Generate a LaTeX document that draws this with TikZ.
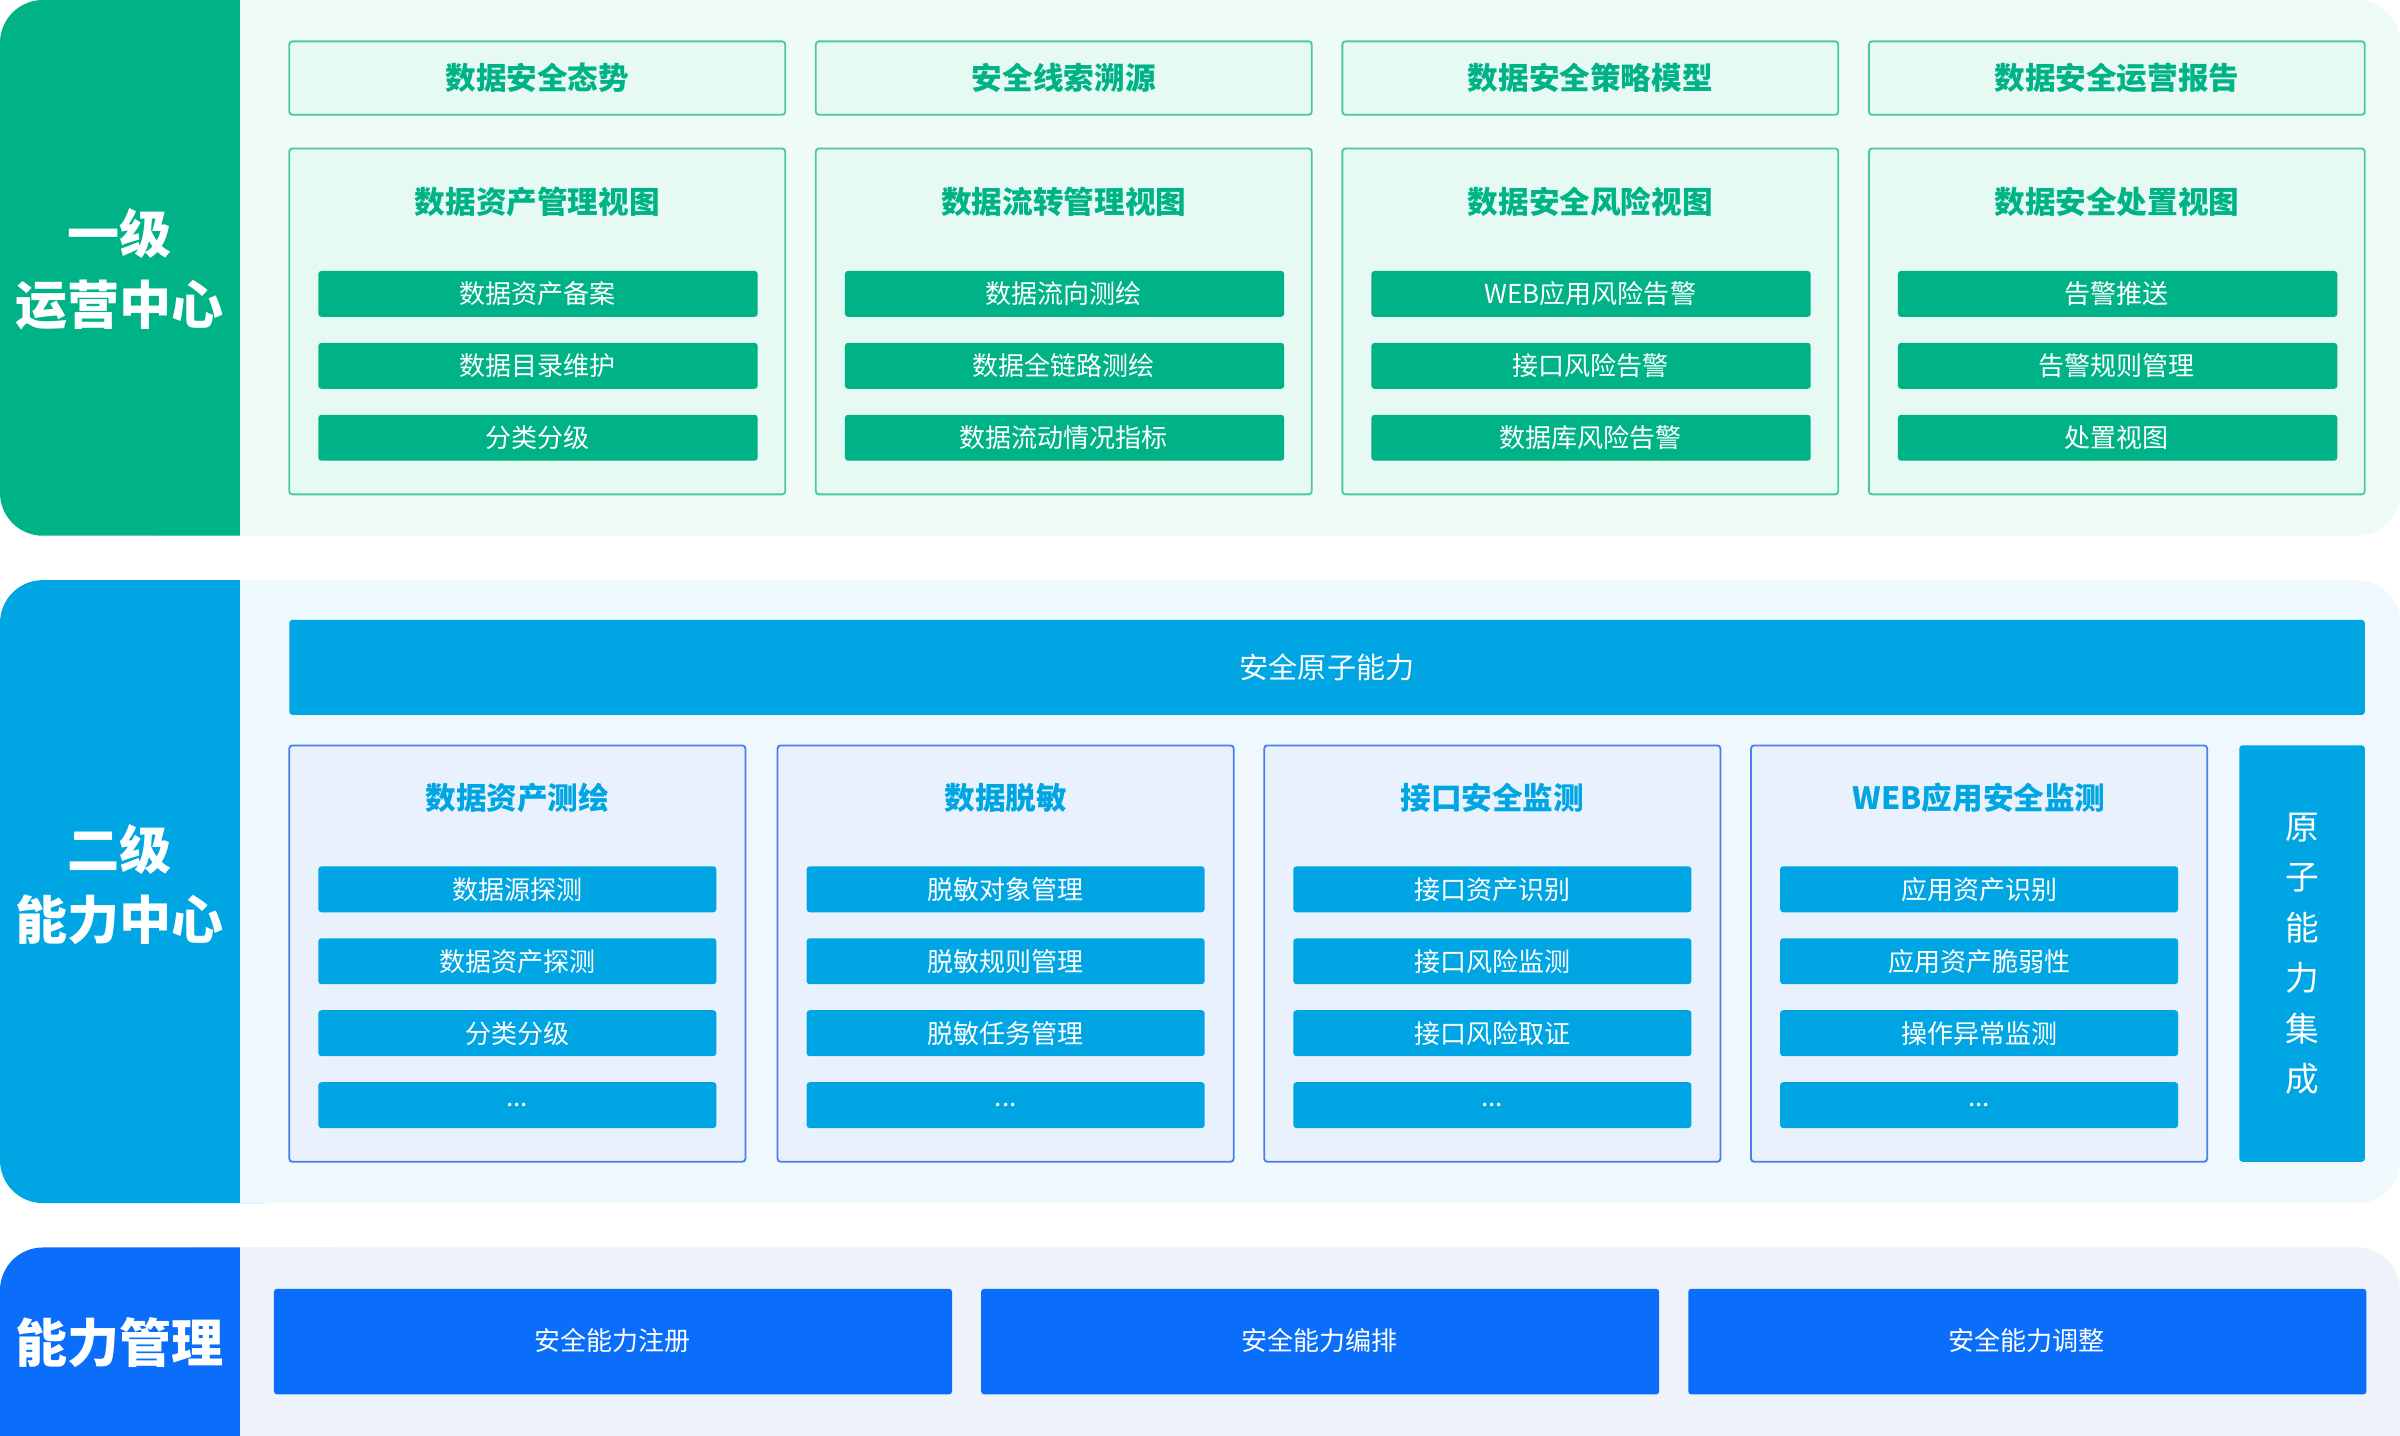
\documentclass[tikz,border=0pt]{standalone}
\usepackage{fontspec}
\setmainfont{Noto Sans CJK SC}
\begin{document}
\begin{tikzpicture}[x=1pt,y=-1pt,
  gbox/.style={draw=gLine,fill=gLight,line width=1.2pt,rounded corners=2pt},
  gbar/.style={fill=gMain,rounded corners=2pt},
  bbox/.style={draw=bLine,fill=bInner,line width=1.2pt,rounded corners=2pt},
  bbar/.style={fill=bMain,rounded corners=2pt},
  wtxt/.style={text=white,font=\fontsize{17}{20}\selectfont},
  gtitle/.style={text=gMain,font=\fontsize{20}{24}\selectfont\bfseries},
  btitle/.style={text=bMain,font=\fontsize{20}{24}\selectfont\bfseries},
  side/.style={text=white,font=\fontsize{34}{46}\selectfont\bfseries,align=center}]
\definecolor{gMain}{HTML}{00B386}
\definecolor{gLight}{HTML}{E6FAF3}
\definecolor{gBg}{HTML}{EEFBF6}
\definecolor{gLine}{HTML}{4CC7A4}
\definecolor{bMain}{HTML}{00A5E3}
\definecolor{bBg}{HTML}{EEF8FD}
\definecolor{bInner}{HTML}{E9F2FC}
\definecolor{bLine}{HTML}{4A7DF0}
\definecolor{cMain}{HTML}{0A6EFA}
\definecolor{cBg}{HTML}{EDF2FB}
\useasboundingbox (0,0) rectangle (1568,938);
% row 1
\fill[gBg,rounded corners=28pt] (100,0) rectangle (1568,350);
\fill[gBg] (100,0) rectangle (1500,350);
\fill[gMain,rounded corners=28pt] (0,0) rectangle (200,350);
\fill[gBg] (157,0) rectangle (220,350);
\node[side] (l1) at (78,176) {一级\\运营中心};
\foreach \x/\t/\h/\a/\b/\c [count=\i] in {189/数据安全态势/数据资产管理视图/数据资产备案/数据目录维护/分类分级,
  533/安全线索溯源/数据流转管理视图/数据流向测绘/数据全链路测绘/数据流动情况指标,
  877/数据安全策略模型/数据安全风险视图/WEB应用风险告警/接口风险告警/数据库风险告警,
  1221/数据安全运营报告/数据安全处置视图/告警推送/告警规则管理/处置视图}{
  \draw[gbox] (\x,27) rectangle ++(324,48);
  \node[gtitle] (t\i) at (\x+162,51) {\t};
  \draw[gbox] (\x,97) rectangle ++(324,226);
  \node[gtitle] (h\i) at (\x+162,132) {\h};
  \fill[gbar] (\x+19,177) rectangle ++(287,30);
  \node[wtxt] (a\i) at (\x+162,192) {\a};
  \fill[gbar] (\x+19,224) rectangle ++(287,30);
  \node[wtxt] (b\i) at (\x+162,239) {\b};
  \fill[gbar] (\x+19,271) rectangle ++(287,30);
  \node[wtxt] (c\i) at (\x+162,286) {\c};
}
% row 2
\fill[bBg,rounded corners=28pt] (100,379) rectangle (1568,786);
\fill[bBg] (100,379) rectangle (1500,786);
\fill[bMain,rounded corners=28pt] (0,379) rectangle (200,786);
\fill[bBg] (157,379) rectangle (220,786);
\node[side] (l2) at (78,578) {二级\\能力中心};
\fill[bbar] (189,405) rectangle (1545,467);
\node[wtxt,font=\fontsize{19}{22}\selectfont] (atom) at (867,436) {安全原子能力};
\foreach \x/\h/\a/\b/\c [count=\i] in {189/数据资产测绘/数据源探测/数据资产探测/分类分级,
  508/数据脱敏/脱敏对象管理/脱敏规则管理/脱敏任务管理,
  826/接口安全监测/接口资产识别/接口风险监测/接口风险取证,
  1144/WEB应用安全监测/应用资产识别/应用资产脆弱性/操作异常监测}{
  \draw[bbox] (\x,487) rectangle ++(298,272);
  \node[btitle] (bh\i) at (\x+149,521) {\h};
  \fill[bbar] (\x+19,566) rectangle ++(260,30);
  \node[wtxt] (ba\i) at (\x+149,581) {\a};
  \fill[bbar] (\x+19,613) rectangle ++(260,30);
  \node[wtxt] (bb\i) at (\x+149,628) {\b};
  \fill[bbar] (\x+19,660) rectangle ++(260,30);
  \node[wtxt] (bc\i) at (\x+149,675) {\c};
  \fill[bbar] (\x+19,707) rectangle ++(260,30);
  \node[wtxt] (bd\i) at (\x+149,722) {...};
}
\fill[bbar] (1463,487) rectangle (1545,759);
\node[text=white,font=\fontsize{22}{33}\selectfont,align=center] (vert) at (1504,623) {原\\子\\能\\力\\集\\成};
% row 3
\fill[cBg,rounded corners=28pt] (100,815) rectangle (1568,990);
\fill[cMain,rounded corners=28pt] (0,815) rectangle (200,990);
\fill[cBg] (157,815) rectangle (220,938);
\node[side] (l3) at (78,877) {能力管理};
\foreach \x/\t [count=\i] in {179/安全能力注册,641/安全能力编排,1103/安全能力调整}{
  \fill[cMain,rounded corners=2pt] (\x,842) rectangle ++(443,69);
  \node[wtxt] (m\i) at (\x+221,876) {\t};
}
\end{tikzpicture}
\end{document}
